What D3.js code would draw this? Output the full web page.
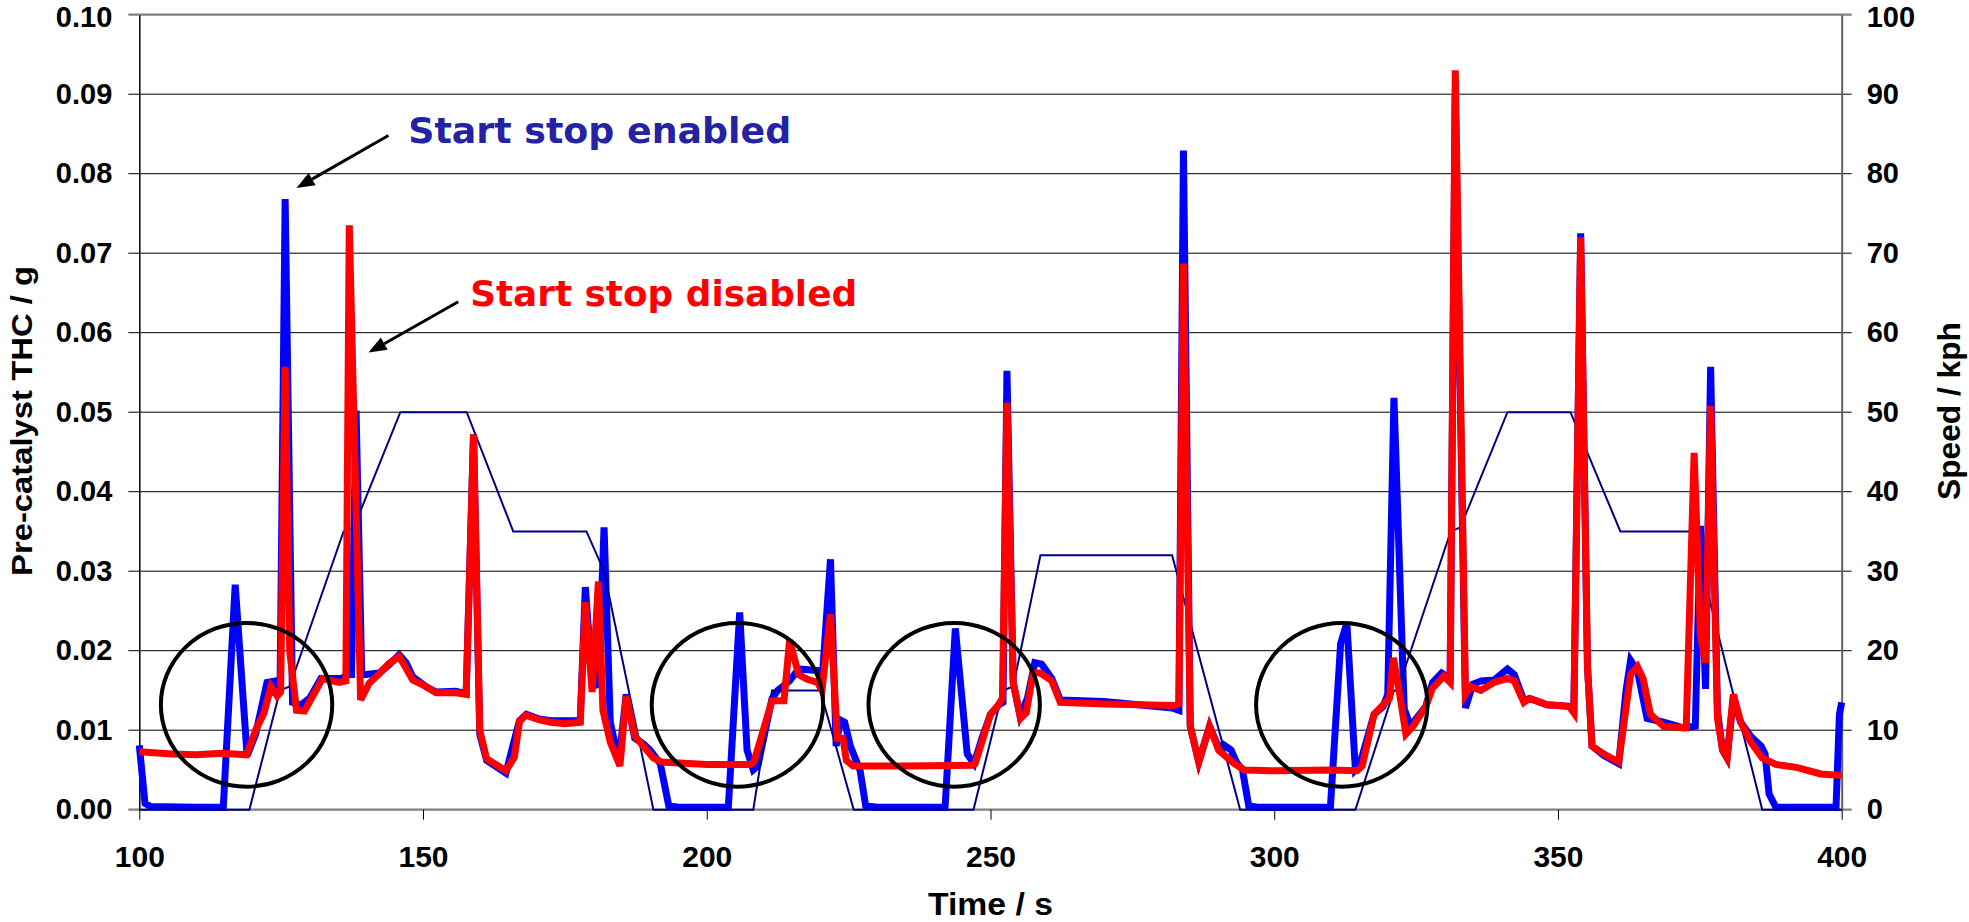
<!DOCTYPE html>
<html>
<head>
<meta charset="utf-8">
<script src="https://cdn.jsdelivr.net/npm/d3@7"></script>
<style>
  html, body { margin: 0; padding: 0; background: #fff; }
  svg { display: block; }
</style>
</head>
<body>
<svg id="chart" width="1969" height="922"></svg>
<script>
// ---------------- DATA ----------------
const timeTicks = [100, 150, 200, 250, 300, 350, 400];
const thcTicks = [0, 0.01, 0.02, 0.03, 0.04, 0.05, 0.06, 0.07, 0.08, 0.09, 0.10];
const speedTicks = [0, 10, 20, 30, 40, 50, 60, 70, 80, 90, 100];

// Start stop enabled (blue)
const enabledTime = [100, 101, 102, 110, 114.8, 116.9, 119.0, 120.5, 122.5, 124.0, 124.8, 125.7, 127.0, 128.5, 130.0, 132.0, 135.8, 136.5, 137.4, 138.2, 139.2, 140.0, 142.3, 144.0, 145.8, 147.0, 148.2, 150.5, 152.3, 155.8, 157.6, 158.9, 160.0, 161.2, 164.6, 166.0, 167.0, 168.2, 170.5, 172.5, 177.7, 178.6, 179.9, 180.9, 181.9, 183.0, 184.5, 185.8, 187.3, 188.8, 190.0, 191.8, 193.3, 195, 203.8, 205.8, 207.1, 208.2, 209.0, 211.5, 212.5, 214.6, 216.2, 219.5, 220.3, 221.8, 222.8, 223.5, 224.3, 225.3, 227.0, 228.0, 230, 242.0, 243.8, 245.9, 247.1, 248.5, 250.0, 251.5, 252.2, 252.9, 254.0, 255.2, 256.5, 257.8, 259.0, 260.8, 262.3, 270, 282.0, 283.2, 284.0, 285.2, 286.7, 288.6, 290.2, 291.0, 292.4, 293.3, 294.4, 295.5, 297, 309.9, 311.7, 312.8, 314.3, 315, 317.6, 319.2, 320.0, 321.1, 322.9, 324.0, 326.7, 327.9, 329.5, 331.0, 331.9, 333.7, 335.0, 336.5, 338.7, 341.1, 342.3, 344.0, 345.0, 348.1, 352.0, 352.8, 354.0, 355.2, 356.0, 358.1, 360.7, 362.0, 362.8, 364.0, 365.7, 368.6, 372.1, 374.2, 375.1, 376.0, 376.9, 378.1, 379.0, 379.8, 380.9, 382.2, 384.0, 385.8, 386.5, 387.2, 388.4, 399.0, 399.6, 400];
const enabledTHC = [0.0081, 0.0008, 0.0004, 0.0003, 0.0003, 0.0283, 0.0068, 0.0095, 0.0160, 0.0162, 0.0150, 0.0768, 0.0135, 0.0132, 0.0140, 0.0165, 0.0165, 0.0170, 0.0170, 0.0502, 0.0170, 0.0170, 0.0172, 0.0182, 0.0195, 0.0185, 0.0167, 0.0155, 0.0148, 0.0149, 0.0146, 0.0472, 0.0095, 0.0062, 0.0046, 0.0085, 0.0112, 0.0120, 0.0114, 0.0112, 0.0112, 0.0280, 0.0155, 0.0158, 0.0355, 0.0110, 0.0060, 0.0145, 0.0090, 0.0083, 0.0075, 0.0058, 0.0005, 0.0003, 0.0003, 0.0248, 0.0075, 0.0050, 0.0055, 0.0140, 0.0150, 0.0162, 0.0177, 0.0175, 0.0160, 0.0315, 0.0080, 0.0113, 0.0110, 0.0080, 0.0050, 0.0005, 0.0003, 0.0003, 0.0228, 0.0070, 0.0058, 0.0090, 0.0120, 0.0132, 0.0135, 0.0552, 0.0160, 0.0118, 0.0140, 0.0185, 0.0183, 0.0165, 0.0138, 0.0136, 0.0128, 0.0125, 0.0829, 0.0105, 0.0060, 0.0105, 0.0078, 0.0082, 0.0075, 0.0060, 0.0050, 0.0005, 0.0003, 0.0003, 0.0209, 0.0235, 0.0050, 0.0055, 0.0120, 0.0130, 0.0145, 0.0518, 0.0127, 0.0105, 0.0130, 0.0160, 0.0172, 0.0165, 0.0900, 0.0128, 0.0158, 0.0162, 0.0163, 0.0177, 0.0170, 0.0137, 0.0140, 0.0132, 0.0130, 0.0125, 0.0725, 0.0180, 0.0080, 0.0068, 0.0058, 0.0150, 0.0188, 0.0175, 0.0115, 0.0110, 0.0103, 0.0105, 0.0357, 0.0152, 0.0557, 0.0125, 0.0075, 0.0065, 0.0140, 0.0110, 0.0092, 0.0080, 0.0070, 0.0020, 0.0003, 0.0003, 0.0120, 0.0135];

// Start stop disabled (red)
const disabledTime = [100, 105.8, 110, 114.6, 118.9, 120.5, 122.0, 123.2, 124.3, 124.9, 125.7, 126.5, 127.7, 129.1, 130.5, 132.3, 135.2, 136.4, 137.0, 139.0, 140.5, 142.3, 144.0, 145.8, 148.2, 150.5, 152.3, 155.8, 157.6, 158.9, 160.0, 161.2, 164.6, 166.1, 167.0, 168.1, 170.5, 172.5, 175, 177.7, 178.6, 179.8, 180.9, 181.7, 183.0, 184.7, 185.8, 187.3, 188.8, 190.6, 192, 200, 207.7, 208.3, 211.5, 213.6, 214.6, 216.2, 217.7, 219.5, 220.3, 221.8, 223.0, 224.0, 224.6, 225.8, 235, 246.7, 247.3, 250.0, 251.2, 252.1, 252.9, 254.0, 255.3, 256.3, 257.5, 258.8, 260.8, 262.3, 270, 282.3, 283.2, 284.0, 285.2, 286.7, 288.6, 290.2, 291.8, 293.0, 294.7, 300, 310, 314.6, 315.5, 317.6, 319.6, 320.3, 321.0, 322.0, 323.2, 324.5, 326.7, 327.9, 329.9, 331.0, 331.9, 333.7, 334.6, 336.4, 338.7, 341.1, 342.3, 344.0, 345.0, 348.1, 352.0, 352.8, 354.0, 355.2, 356.0, 358.1, 360.7, 362.8, 364.0, 365.0, 366.3, 368.6, 372.6, 374.0, 375.1, 376.0, 376.9, 378.1, 379.0, 379.8, 380.9, 382.2, 384.0, 386.0, 388.4, 392.2, 396.3, 400];
const disabledTHC = [0.0073, 0.0070, 0.0069, 0.0071, 0.0069, 0.0100, 0.0122, 0.0155, 0.0143, 0.0148, 0.0557, 0.0200, 0.0125, 0.0124, 0.0142, 0.0165, 0.0160, 0.0162, 0.0735, 0.0138, 0.0159, 0.0171, 0.0184, 0.0193, 0.0163, 0.0155, 0.0147, 0.0147, 0.0145, 0.0472, 0.0100, 0.0064, 0.0049, 0.0066, 0.0111, 0.0119, 0.0113, 0.0110, 0.0108, 0.0110, 0.0261, 0.0148, 0.0287, 0.0125, 0.0085, 0.0055, 0.0143, 0.0093, 0.0080, 0.0065, 0.0060, 0.0057, 0.0057, 0.0060, 0.0137, 0.0137, 0.0213, 0.0170, 0.0164, 0.0160, 0.0150, 0.0246, 0.0090, 0.0090, 0.0062, 0.0055, 0.0055, 0.0056, 0.0058, 0.0120, 0.0130, 0.0140, 0.0512, 0.0160, 0.0115, 0.0122, 0.0172, 0.0172, 0.0162, 0.0135, 0.0133, 0.0131, 0.0133, 0.0687, 0.0105, 0.0060, 0.0105, 0.0075, 0.0065, 0.0058, 0.0050, 0.0049, 0.0050, 0.0049, 0.0055, 0.0120, 0.0135, 0.0140, 0.0191, 0.0150, 0.0095, 0.0105, 0.0130, 0.0153, 0.0168, 0.0160, 0.0930, 0.0145, 0.0155, 0.0150, 0.0160, 0.0165, 0.0162, 0.0135, 0.0140, 0.0132, 0.0130, 0.0122, 0.0720, 0.0180, 0.0080, 0.0070, 0.0060, 0.0170, 0.0180, 0.0165, 0.0120, 0.0105, 0.0103, 0.0449, 0.0220, 0.0185, 0.0508, 0.0115, 0.0075, 0.0065, 0.0145, 0.0110, 0.0085, 0.0065, 0.0057, 0.0053, 0.0045, 0.0043];

// Vehicle speed (navy, right axis)
const speedTime = [100, 119.4, 124.8, 126.5, 136.0, 137.8, 146.0, 157.7, 165.9, 178.8, 181.9, 190.6, 208.2, 211.5, 220.0, 225.9, 247.0, 252.2, 254.0, 258.8, 282.0, 294.0, 314.3, 321.1, 321.7, 331.1, 332.8, 341.1, 352.2, 361.0, 373.7, 386.0, 400];
const speedKph = [0, 0, 15, 15.5, 35, 35.5, 50, 50, 35, 35, 30, 0, 0, 15, 15, 0, 0, 15, 15.5, 32, 32, 0, 0, 15, 15, 35, 35.5, 50, 50, 35, 35, 0, 0];

// Annotations (data units)
const circleTime = [118.9, 205.4, 243.6, 311.9];
const circleTHC = [0.0132, 0.0132, 0.0132, 0.0132];
const circleHalfTime = 15.1;
const circleHalfTHC = 0.0103;
const labelTexts = ["Start stop enabled", "Start stop disabled"];
const labelColors = ["#2323A3", "#FF0000"];
const labelTime = [147.4, 158.3];
const labelTHC = [0.0838, 0.0633];
const arrowFromTime = [143.9, 156.2];
const arrowFromTHC = [0.0848, 0.0639];
const arrowToTime = [127.7, 140.4];
const arrowToTHC = [0.0782, 0.0575];

// ---------------- CHART ----------------
const svg = d3.select("#chart");
const L = 139.3, R = 1841.7, T = 14.7, B = 809.7;
const x = d3.scaleLinear().domain([100, 400]).range([L, R]);
const y = d3.scaleLinear().domain([0, 0.10]).range([B, T]);
const y2 = d3.scaleLinear().domain([0, 100]).range([B, T]);
const FONT = "'Liberation Sans', Arial, sans-serif";

// gridlines
svg.append("g").selectAll("line").data(thcTicks).join("line")
  .attr("x1", L - 11).attr("x2", R + 10)
  .attr("y1", d => y(d)).attr("y2", d => y(d))
  .attr("stroke", (d, i) => (i === 0 || i === thcTicks.length - 1) ? "#808080" : "#000")
  .attr("stroke-width", (d, i) => (i === 0 || i === thcTicks.length - 1) ? 2.2 : 1);

// left axis
const gL = svg.append("g").attr("transform", `translate(${L},0)`)
  .call(d3.axisLeft(y).tickValues(thcTicks).tickFormat(d3.format(".2f")).tickSize(11).tickPadding(16).tickSizeOuter(0));
gL.select(".domain").attr("stroke", "#000").attr("stroke-width", 1.5);
gL.selectAll(".tick line").attr("stroke", "none");
gL.selectAll("text").attr("font-family", FONT).attr("font-weight", "bold").attr("font-size", 29).attr("fill", "#000")
  .attr("dy", (d, i, n) => i === n.length - 1 ? "0.42em" : "0.32em");

// right axis
const gR = svg.append("g").attr("transform", `translate(${R},0)`)
  .call(d3.axisRight(y2).tickValues(speedTicks).tickSize(10).tickPadding(15).tickSizeOuter(0));
gR.select(".domain").attr("stroke", "#606060").attr("stroke-width", 2);
gR.selectAll(".tick line").attr("stroke", "none");
gR.selectAll("text").attr("font-family", FONT).attr("font-weight", "bold").attr("font-size", 29).attr("fill", "#000")
  .attr("dy", (d, i, n) => i === n.length - 1 ? "0.42em" : "0.32em");

// bottom axis
const gB = svg.append("g").attr("transform", `translate(0,${B})`)
  .call(d3.axisBottom(x).tickValues(timeTicks).tickSize(10).tickSizeOuter(0));
gB.select(".domain").remove();
gB.selectAll(".tick line").attr("stroke", "#000").attr("stroke-width", 1);
gB.selectAll("text").attr("y", 57.5).attr("dy", 0)
  .attr("font-family", FONT).attr("font-weight", "bold").attr("font-size", 30).attr("fill", "#000");

// axis titles
svg.append("text").attr("transform", `translate(31.5,421) rotate(-90)`)
  .attr("text-anchor", "middle").attr("font-family", FONT).attr("font-weight", "bold")
  .attr("font-size", 30).attr("textLength", 310).attr("lengthAdjust", "spacingAndGlyphs")
  .text("Pre-catalyst THC / g");
svg.append("text").attr("transform", `translate(1960,411) rotate(-90)`)
  .attr("text-anchor", "middle").attr("font-family", FONT).attr("font-weight", "bold")
  .attr("font-size", 31).attr("textLength", 178).attr("lengthAdjust", "spacingAndGlyphs")
  .text("Speed / kph");
svg.append("text").attr("x", (L + R) / 2).attr("y", 915)
  .attr("text-anchor", "middle").attr("font-family", FONT).attr("font-weight", "bold")
  .attr("font-size", 31).attr("textLength", 125).attr("lengthAdjust", "spacingAndGlyphs")
  .text("Time / s");

// series
const line = d3.line().x(d => x(d[0])).y(d => y(d[1]));
const line2 = d3.line().x(d => x(d[0])).y(d => y2(d[1]));
const enabled = enabledTime.map((t, i) => [t, enabledTHC[i]]);
const disabled = disabledTime.map((t, i) => [t, disabledTHC[i]]);
const speed = speedTime.map((t, i) => [t, speedKph[i]]);

svg.append("path").datum(enabled).attr("d", line)
  .attr("fill", "none").attr("stroke", "#0000FF").attr("stroke-width", 7).attr("stroke-linejoin", "miter");
svg.append("path").datum(speed).attr("d", line2)
  .attr("fill", "none").attr("stroke", "#000080").attr("stroke-width", 2);
svg.append("path").datum(disabled).attr("d", line)
  .attr("fill", "none").attr("stroke", "#FF0000").attr("stroke-width", 7).attr("stroke-linejoin", "miter");

// ellipses
svg.append("g").selectAll("ellipse").data(circleTime).join("ellipse")
  .attr("cx", d => x(d)).attr("cy", (d, i) => y(circleTHC[i]))
  .attr("rx", x(100 + circleHalfTime) - x(100))
  .attr("ry", y(0) - y(circleHalfTHC))
  .attr("fill", "none").attr("stroke", "#000").attr("stroke-width", 4);

// arrows
arrowFromTime.forEach((t0, i) => {
  const x0 = x(t0), y0 = y(arrowFromTHC[i]), x1 = x(arrowToTime[i]), y1 = y(arrowToTHC[i]);
  const ang = Math.atan2(y1 - y0, x1 - x0);
  const hl = 18, hw = 7;
  const bx = x1 - hl * Math.cos(ang), by = y1 - hl * Math.sin(ang);
  svg.append("line").attr("x1", x0).attr("y1", y0).attr("x2", bx).attr("y2", by)
    .attr("stroke", "#000").attr("stroke-width", 3);
  const px = -Math.sin(ang), py = Math.cos(ang);
  svg.append("path")
    .attr("d", `M${x1},${y1}L${bx + hw * px},${by + hw * py}L${bx - hw * px},${by - hw * py}Z`)
    .attr("fill", "#000");
});

// labels
labelTexts.forEach((txt, i) => {
  svg.append("text").attr("x", x(labelTime[i])).attr("y", y(labelTHC[i]))
    .attr("font-family", "'DejaVu Sans', Verdana, sans-serif").attr("font-weight", "bold")
    .attr("font-size", 36).attr("fill", labelColors[i])
    .attr("textLength", i === 0 ? 383 : 387).attr("lengthAdjust", "spacingAndGlyphs")
    .text(txt);
});
</script>
</body>
</html>
